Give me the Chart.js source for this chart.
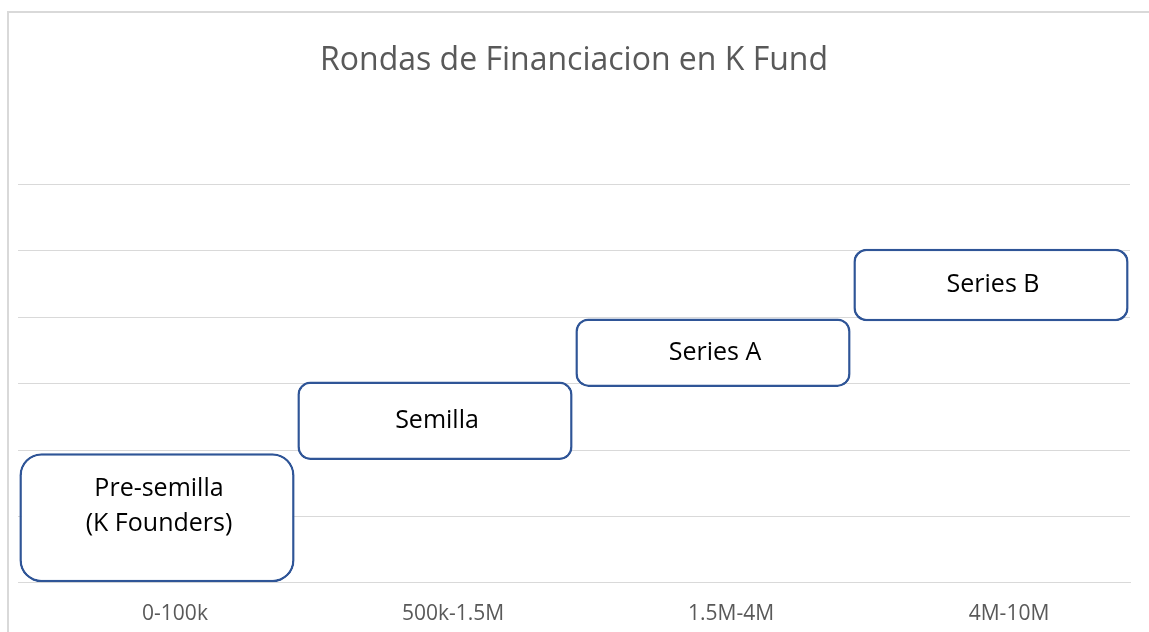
<!DOCTYPE html>
<html>
<head>
<meta charset="utf-8">
<script src="https://cdn.jsdelivr.net/npm/chart.js@4.4.1/dist/chart.umd.min.js"></script>
<style>
  html, body { margin: 0; padding: 0; background: #fff; }
  #wrap { position: relative; width: 1149px; height: 632px; overflow: hidden; }
  #frame { position: absolute; left: 7px; top: 11px; right: -10px; bottom: -10px;
           border-top: 2px solid #d9d9d9; border-left: 2px solid #d9d9d9; }
  canvas { position: absolute; left: 0; top: 0; }
</style>
</head>
<body>
<div id="wrap">
  <div id="frame"></div>
  <canvas id="chart" width="1149" height="632"></canvas>
</div>
<script>
const categories = ['0-100k', '500k-1.5M', '1.5M-4M', '4M-10M'];
const rangeStart = [0, 1.85, 2.95, 3.94];
const rangeEnd = [1.95, 3.03, 3.98, 5.03];
const boxLabels = [['Pre-semilla', '(K Founders)'], ['Semilla'], ['Series A'], ['Series B']];

const font = "'Open Sans', 'Liberation Sans', sans-serif";

// write the round names inside each box
const boxText = {
    id: 'boxText',
    afterDatasetsDraw(chart) {
        const ctx = chart.ctx;
        const meta = chart.getDatasetMeta(0);
        ctx.save();
        ctx.fillStyle = '#000';
        ctx.font = '25px ' + font;
        ctx.textAlign = 'center';
        ctx.textBaseline = 'middle';
        meta.data.forEach((bar, i) => {
            const lines = boxLabels[i];
            const lh = 35;
            let cy = (bar.y + bar.base) / 2;
            if (lines.length > 1) cy -= 11;
            const first = cy - (lines.length - 1) * lh / 2;
            lines.forEach((t, j) => ctx.fillText(t, bar.x + 2, first + j * lh));
        });
        ctx.restore();
    }
};

const chart = new Chart(document.getElementById('chart'), {
    type: 'bar',
    data: {
        labels: categories,
        datasets: [{
            data: rangeStart.map((s, i) => [s, rangeEnd[i]]),
            backgroundColor: '#ffffff',
            borderColor: '#2f5597',
            borderWidth: 2.5,
            borderSkipped: false,
            borderRadius: [22, 13, 13, 13],
            categoryPercentage: 1,
            barPercentage: 0.99
        }]
    },
    options: {
        responsive: false,
        animation: false,
        layout: { padding: { left: 18, right: 19, top: 0, bottom: -14 } },
        plugins: {
            legend: { display: false },
            tooltip: { enabled: false },
            title: {
                display: true,
                text: 'Rondas de Financiacion en K Fund',
                color: '#595959',
                font: { family: font, size: 32, weight: 'normal' },
                padding: { top: 42, bottom: 104 }
            }
        },
        scales: {
            x: {
                grid: { display: false, drawTicks: false },
                border: { display: true, color: '#d9d9d9', width: 1 },
                ticks: { color: '#595959', font: { family: font, size: 21 }, padding: 19, labelOffset: 18, maxRotation: 0 }
            },
            y: {
                min: 0,
                max: 6,
                ticks: { display: false, stepSize: 1 },
                grid: { color: '#d9d9d9', lineWidth: 1, drawTicks: false },
                border: { display: false }
            }
        }
    },
    plugins: [boxText]
});
</script>
</body>
</html>
